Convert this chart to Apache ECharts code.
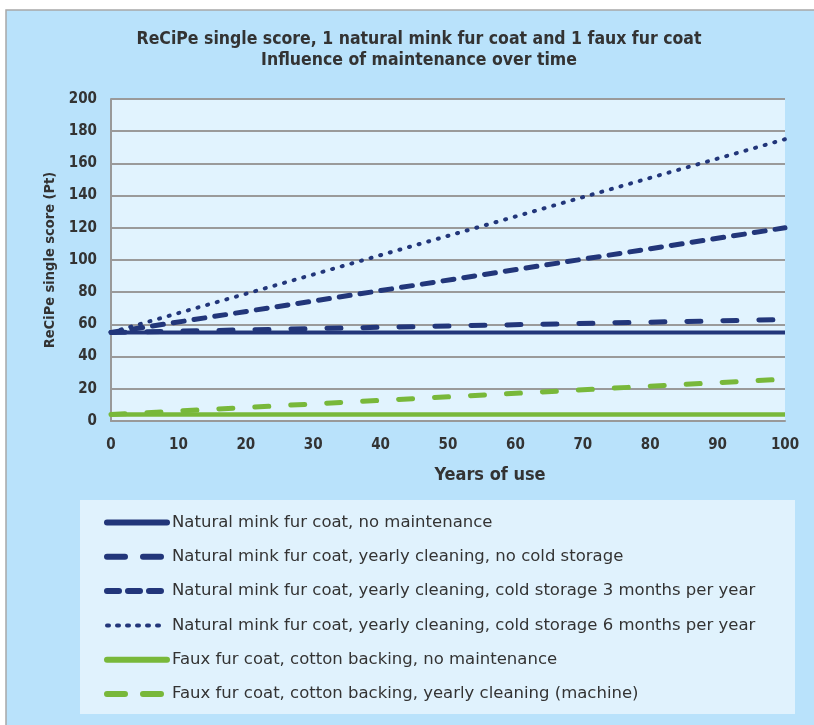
<!DOCTYPE html>
<html><head><meta charset="utf-8">
<script src="https://cdn.jsdelivr.net/npm/echarts@6/dist/echarts.min.js"></script>
<style>html,body{margin:0;padding:0;background:#fff}#c{width:814px;height:725px}</style>
</head><body><div id="c"></div>
<script>
const years = [0, 100];
const minkNoMaint = [55, 55];
const minkCleanNoCold = [55, 63];
const minkClean3m = [55, 120];
const minkClean6m = [55, 175];
const fauxNoMaint = [4, 4];
const fauxClean = [4, 26];
const seriesNames = [
  'Natural mink fur coat, no maintenance',
  'Natural mink fur coat, yearly cleaning, no cold storage',
  'Natural mink fur coat, yearly cleaning, cold storage 3 months per year',
  'Natural mink fur coat, yearly cleaning, cold storage 6 months per year',
  'Faux fur coat, cotton backing, no maintenance',
  'Faux fur coat, cotton backing, yearly cleaning (machine)'
];
const navy = '#22367a', green = '#78b83a';
const pts = v => years.map((x, i) => [x, v[i]]);
const font = "'Liberation Sans Narrow','DejaVu Sans Condensed',sans-serif";
const chart = echarts.init(document.getElementById('c'));
function mk(name, data, color, width, type, cap) {
  return { name, type: 'line', data: pts(data), symbol: 'none', showSymbol: false,
    lineStyle: { color, width, type, cap: cap || 'butt' }, itemStyle: { color }, z: 3 };
}
const legStyles = [
  { color: navy, width: 6, type: 'solid', cap: 'round' },
  { color: navy, width: 6, type: [18, 18], cap: 'round' },
  { color: navy, width: 6, type: [12, 9], cap: 'round' },
  { color: navy, width: 4, type: [2, 8], cap: 'round' },
  { color: green, width: 6, type: 'solid', cap: 'round' },
  { color: green, width: 6, type: [18, 18], cap: 'round' }
];
chart.setOption({
  animation: false,
  graphic: [
    { type: 'rect', shape: { x: 6, y: 10, width: 820, height: 730 }, style: { fill: '#b9e2fb', stroke: '#a8a8a8', lineWidth: 1.5 }, z: -10 },
    { type: 'rect', shape: { x: 80, y: 500, width: 715, height: 214 }, style: { fill: '#e0f2fd' }, z: -5 }
  ],
  title: {
    text: 'ReCiPe single score, 1 natural mink fur coat and 1 faux fur coat\nInfluence of maintenance over time',
    left: 414, textAlign: 'center', top: 24,
    textStyle: { fontFamily: font, fontSize: 17.5, fontWeight: 'bold', color: '#333', lineHeight: 21 }
  },
  grid: { left: 111, right: 29, top: 99, bottom: 304, show: true, backgroundColor: '#e1f3fe', borderWidth: 0 },
  legend: {
    orient: 'vertical', left: 99, top: 509, itemWidth: 60, itemHeight: 14, itemGap: 17.3,
    itemStyle: { opacity: 0 },
    textStyle: { fontFamily: "'DejaVu Sans',sans-serif", fontSize: 16.5, color: '#333' },
    data: seriesNames.map((n, i) => ({ name: n, lineStyle: legStyles[i], itemStyle: { opacity: 0 } }))
  },
  xAxis: {
    type: 'value', min: 0, max: 100, interval: 10,
    name: 'Years of use', nameLocation: 'middle', nameGap: 45,
    nameTextStyle: { fontFamily: font, fontSize: 18, fontWeight: 'bold', color: '#333', padding: [0, 0, 0, 84] },
    axisLine: { show: true, lineStyle: { color: '#999', width: 2 } },
    axisTick: { show: false }, splitLine: { show: false },
    axisLabel: { fontFamily: font, fontSize: 15, fontWeight: 'bold', color: '#333', margin: 17 }
  },
  yAxis: {
    type: 'value', min: 0, max: 200, interval: 20,
    name: 'ReCiPe single score (Pt)', nameLocation: 'middle', nameGap: 51, nameRotate: 90,
    nameTextStyle: { fontFamily: font, fontSize: 14.5, fontWeight: 'bold', color: '#333' },
    axisLine: { show: true, lineStyle: { color: '#999', width: 2 } },
    axisTick: { show: false },
    splitLine: { show: true, lineStyle: { color: '#9a9a9a', width: 2 } },
    axisLabel: { fontFamily: font, fontSize: 15, fontWeight: 'bold', color: '#333', margin: 14 }
  },
  series: [
    mk(seriesNames[0], minkNoMaint, navy, 4, 'solid'),
    mk(seriesNames[1], minkCleanNoCold, navy, 5, [14, 22], 'round'),
    mk(seriesNames[2], minkClean3m, navy, 5, [11, 10], 'round'),
    mk(seriesNames[3], minkClean6m, navy, 4, [1, 9], 'round'),
    mk(seriesNames[4], fauxNoMaint, green, 4.5, 'solid'),
    mk(seriesNames[5], fauxClean, green, 5, [14, 22], 'round')
  ]
});
</script></body></html>
